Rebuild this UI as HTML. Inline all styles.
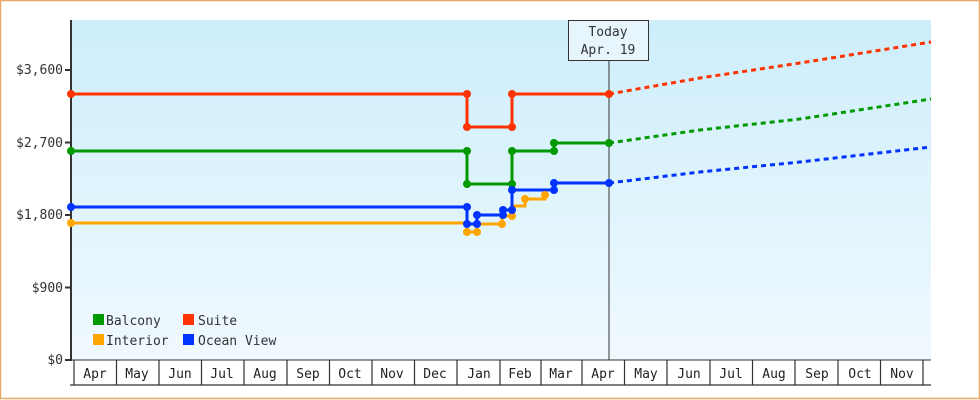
<!DOCTYPE html>
<html><head><meta charset="utf-8"><style>
html,body{margin:0;padding:0;background:#fff}
svg{display:block;font-family:"DejaVu Sans Mono","Liberation Mono",monospace}
</style></head><body>
<svg width="980" height="400" viewBox="0 0 980 400" xmlns="http://www.w3.org/2000/svg">
<defs><linearGradient id="bg" x1="0" y1="0" x2="0" y2="1"><stop offset="0" stop-color="#cdeefb"/><stop offset="1" stop-color="#f0f9fe"/></linearGradient></defs>
<rect x="0.5" y="0.5" width="979" height="398" fill="#fff" stroke="#e8a868" stroke-width="1.5"/>
<rect x="71" y="20" width="860" height="340" fill="url(#bg)"/>
<line x1="71" y1="20" x2="71" y2="361" stroke="#333" stroke-width="2"/>
<line x1="71" y1="360" x2="931" y2="360" stroke="#333" stroke-width="1"/>
<g font-size="13" fill="#333" text-anchor="end">
<text x="63" y="74">$3,600</text><text x="63" y="147">$2,700</text><text x="63" y="219">$1,800</text><text x="63" y="292">$900</text><text x="63" y="364">$0</text>
</g>
<g stroke="#333" stroke-width="2"><line x1="65" y1="70" x2="71" y2="70"/><line x1="65" y1="142.5" x2="71" y2="142.5"/><line x1="65" y1="215" x2="71" y2="215"/><line x1="65" y1="287.5" x2="71" y2="287.5"/><line x1="65" y1="360" x2="71" y2="360"/></g>
<g stroke="#333" stroke-width="1.2" fill="none">
<line x1="70" y1="385" x2="931" y2="385"/>
<line x1="74" y1="360" x2="74" y2="385"/><line x1="116.5" y1="360" x2="116.5" y2="385"/><line x1="159" y1="360" x2="159" y2="385"/><line x1="201.5" y1="360" x2="201.5" y2="385"/><line x1="244" y1="360" x2="244" y2="385"/><line x1="287" y1="360" x2="287" y2="385"/><line x1="329.5" y1="360" x2="329.5" y2="385"/><line x1="372" y1="360" x2="372" y2="385"/><line x1="414.5" y1="360" x2="414.5" y2="385"/><line x1="457" y1="360" x2="457" y2="385"/><line x1="500" y1="360" x2="500" y2="385"/><line x1="541" y1="360" x2="541" y2="385"/><line x1="582" y1="360" x2="582" y2="385"/><line x1="624.5" y1="360" x2="624.5" y2="385"/><line x1="667" y1="360" x2="667" y2="385"/><line x1="710" y1="360" x2="710" y2="385"/><line x1="752.5" y1="360" x2="752.5" y2="385"/><line x1="795" y1="360" x2="795" y2="385"/><line x1="838" y1="360" x2="838" y2="385"/><line x1="880.5" y1="360" x2="880.5" y2="385"/><line x1="923" y1="360" x2="923" y2="385"/>
</g>
<g font-size="13" fill="#222" text-anchor="middle">
<text x="95" y="378">Apr</text><text x="137" y="378">May</text><text x="180" y="378">Jun</text><text x="222" y="378">Jul</text><text x="265" y="378">Aug</text><text x="308" y="378">Sep</text><text x="350" y="378">Oct</text><text x="392" y="378">Nov</text><text x="435" y="378">Dec</text><text x="479" y="378">Jan</text><text x="520" y="378">Feb</text><text x="561" y="378">Mar</text><text x="603" y="378">Apr</text><text x="646" y="378">May</text><text x="689" y="378">Jun</text><text x="731" y="378">Jul</text><text x="774" y="378">Aug</text><text x="817" y="378">Sep</text><text x="860" y="378">Oct</text><text x="902" y="378">Nov</text>
</g>
<line x1="609" y1="60" x2="609" y2="360" stroke="#333" stroke-width="1"/>
<rect x="568.5" y="20.5" width="80" height="40" fill="#e6f6fc" stroke="#333"/>
<g font-size="13" fill="#333" text-anchor="middle"><text x="608" y="36">Today</text><text x="608" y="54">Apr. 19</text></g>
<g fill="none" stroke-width="3">
<polyline stroke="#ff3300" points="71,94 467,94 467,127 512,127 512,94 609,94"/>
<polyline stroke="#009900" points="71,151 467,151 467,184 512,184 512,151 554,151 554,143 609,143"/>
<polyline stroke="#ffa500" points="71,223 467,223 467,232 477,232 477,224 502,224 502,216 512,216 512,206 525,206 525,199 545,199 545,195"/>
<polyline stroke="#0033ff" points="71,207 467,207 467,224 477,224 477,215 503,215 503,210 512,210 512,190 554,190 554,183 609,183"/>
<g stroke-dasharray="5,4">
<polyline stroke="#ff3300" points="609,94 700,78 800,63 931,42"/>
<polyline stroke="#009900" points="609,143 700,130 800,119 931,99"/>
<polyline stroke="#0033ff" points="609,183 700,172 800,162 931,147"/>
</g></g>
<g fill="#ff3300"><circle cx="71" cy="94" r="4"/><circle cx="467" cy="94" r="4"/><circle cx="467" cy="127" r="4"/><circle cx="512" cy="127" r="4"/><circle cx="512" cy="94" r="4"/><circle cx="609" cy="94" r="4"/></g>
<g fill="#009900"><circle cx="71" cy="151" r="4"/><circle cx="467" cy="151" r="4"/><circle cx="467" cy="184" r="4"/><circle cx="512" cy="184" r="4"/><circle cx="512" cy="151" r="4"/><circle cx="554" cy="151" r="4"/><circle cx="554" cy="143" r="4"/><circle cx="609" cy="143" r="4"/></g>
<g fill="#ffa500"><circle cx="71" cy="223" r="4"/><circle cx="467" cy="232" r="4"/><circle cx="477" cy="232" r="4"/><circle cx="502" cy="224" r="4"/><circle cx="512" cy="216" r="4"/><circle cx="525" cy="199" r="4"/><circle cx="545" cy="195" r="4"/></g>
<g fill="#0033ff"><circle cx="71" cy="207" r="4"/><circle cx="467" cy="207" r="4"/><circle cx="467" cy="224" r="4"/><circle cx="477" cy="224" r="4"/><circle cx="477" cy="215" r="4"/><circle cx="503" cy="215" r="4"/><circle cx="503" cy="210" r="4"/><circle cx="512" cy="210" r="4"/><circle cx="512" cy="190" r="4"/><circle cx="554" cy="190" r="4"/><circle cx="554" cy="183" r="4"/><circle cx="609" cy="183" r="4"/></g>
<rect x="93" y="314" width="11" height="11" fill="#009900"/><rect x="183" y="314" width="11" height="11" fill="#ff3300"/>
<rect x="93" y="334" width="11" height="11" fill="#ffa500"/><rect x="183" y="334" width="11" height="11" fill="#0033ff"/>
<g font-size="13" fill="#333"><text x="106" y="325">Balcony</text><text x="198" y="325">Suite</text><text x="106" y="345">Interior</text><text x="198" y="345">Ocean View</text></g>
</svg>
</body></html>
